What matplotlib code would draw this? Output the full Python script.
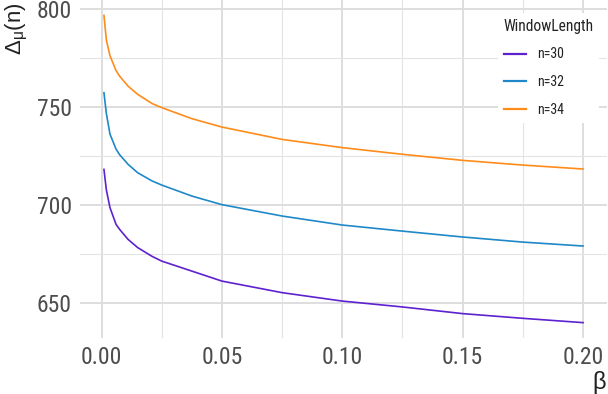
import matplotlib
matplotlib.use("Agg")
import matplotlib.pyplot as plt
from matplotlib import font_manager as fm
from matplotlib.ticker import MultipleLocator

# ---- data ----
beta = [0.001, 0.002, 0.0035, 0.006, 0.0075, 0.011, 0.015, 0.021, 0.025,
        0.0375, 0.05, 0.075, 0.10, 0.125, 0.15, 0.175, 0.20]
n30 = [718.0, 707.5, 698.5, 690.0, 687.4, 682.3, 678.1, 673.6, 671.2,
       666.1, 661.0, 655.1, 650.8, 647.8, 644.4, 642.0, 639.8]
n32 = [757.1, 746.5, 736.0, 728.4, 725.5, 720.6, 716.3, 712.1, 710.0,
       704.4, 700.0, 694.2, 689.6, 686.5, 683.5, 680.9, 678.9]
n34 = [796.6, 784.0, 776.0, 768.5, 765.6, 760.5, 756.3, 751.6, 749.5,
       743.9, 739.6, 733.3, 729.1, 725.7, 722.6, 720.2, 718.2]
series_labels = ["n=30", "n=32", "n=34"]
series_colors = ["#5E21D0", "#1F88C8", "#FF8C1A"]
x_ticks = [0.00, 0.05, 0.10, 0.15, 0.20]
x_ticklabels = ["0.00", "0.05", "0.10", "0.15", "0.20"]
y_ticks = [650, 700, 750, 800]
legend_title = "WindowLength"

# ---- font: prefer a narrow sans if installed ----
narrow = None
for f in fm.fontManager.ttflist:
    fn = f.fname.replace("\\", "/").split("/")[-1].lower()
    if fn.startswith("liberationsansnarrow-regular"):
        narrow = f.fname
        break
if narrow is None:
    for f in fm.fontManager.ttflist:
        fn = f.fname.replace("\\", "/").split("/")[-1].lower()
        if ("condensed" in fn and "regular" in fn and "bold" not in fn
                and ("roboto" in fn or "opensans" in fn or "notosans" in fn)):
            narrow = f.fname
            break

plt.rcParams["font.family"] = ["Liberation Sans", "DejaVu Sans"]
plt.rcParams["mathtext.fontset"] = "custom"
plt.rcParams["mathtext.rm"] = "Liberation Sans"
plt.rcParams["mathtext.it"] = "Liberation Sans"

if narrow:
    tick_fp = fm.FontProperties(fname=narrow, size=17)
    leg_fp = fm.FontProperties(fname=narrow, size=10)
    title_fp = fm.FontProperties(fname=narrow, size=11.2)
else:
    tick_fp = fm.FontProperties(family="Liberation Sans", size=15)
    leg_fp = fm.FontProperties(family="Liberation Sans", size=8.5)
    title_fp = fm.FontProperties(family="Liberation Sans", size=10.2)

W, H = 608, 394
fig = plt.figure(figsize=(W / 100, H / 100), dpi=100)
ax = fig.add_axes([80 / W, 1 - 338 / H, (607 - 80) / W, 338 / H])

for vals, lab, col in zip([n30, n32, n34], series_labels, series_colors):
    ax.plot(beta, vals, color=col, lw=1.2, label=lab)

# ggplot-like expansion
allv = n30 + n32 + n34
ymin, ymax = min(allv), max(allv)
ypad = 0.05 * (ymax - ymin)
xmin, xmax = min(beta), max(beta)
xpad = 0.05 * (xmax - xmin)
ax.set_xlim(xmin - xpad, xmax + xpad)
ax.set_ylim(ymin - ypad, ymax + ypad)

ax.set_xticks(x_ticks)
ax.set_xticklabels(x_ticklabels)
ax.set_yticks(y_ticks)
ax.xaxis.set_minor_locator(MultipleLocator(0.025))
ax.yaxis.set_minor_locator(MultipleLocator(25))
ax.grid(which="major", color="#DEDEDE", lw=1.4)
ax.grid(which="minor", color="#E4E4E4", lw=0.8)
ax.set_axisbelow(True)
for s in ax.spines.values():
    s.set_visible(False)
ax.tick_params(which="both", length=0, labelcolor="#4D4D4D", pad=6)
for lbl in ax.get_xticklabels() + ax.get_yticklabels():
    lbl.set_fontproperties(tick_fp)

fig.text(17 / W, 1 - 3 / H, r"$\Delta_{\mu}(n)$", rotation=90, ha="center", va="top",
         fontsize=16, color="#222222")
fig.text(606 / W, 1 - 383 / H, "β", ha="right", va="center", fontsize=17, color="#222222")

leg = ax.legend(title=legend_title, loc="upper left",
                bbox_to_anchor=(491 / W, 1 - 6 / H), bbox_transform=fig.transFigure,
                frameon=True, facecolor="white", edgecolor="none", framealpha=1,
                prop=leg_fp, handlelength=1.6,
                handletextpad=0.8, labelspacing=1.0, borderpad=0.4,
                fancybox=False, alignment="left")
leg.get_title().set_fontproperties(title_fp)
leg.get_title().set_color("#222222")
for t in leg.get_texts():
    t.set_color("#222222")
for l in leg.get_lines():
    l.set_linewidth(1.6)

fig.savefig("out.png", dpi=100)
